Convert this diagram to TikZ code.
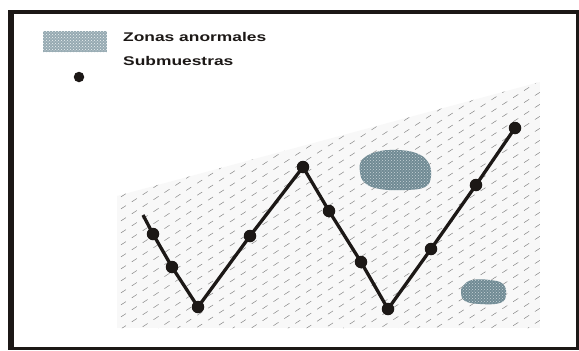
\documentclass[tikz,border=0pt]{standalone}
\usepackage{fontspec}
\setmainfont{Liberation Sans}
\usetikzlibrary{patterns}
\definecolor{ink}{RGB}{28,24,22}
\definecolor{blobcol}{RGB}{112,138,148}
\definecolor{blobdot}{RGB}{200,212,216}
\definecolor{swatch}{RGB}{150,170,178}
\definecolor{hatchbg}{RGB}{248,248,248}
\definecolor{hatchln}{RGB}{135,135,135}
\tikzset{
  sample/.style={circle,fill=ink,inner sep=0pt,minimum size=12.5pt},
  legtext/.style={anchor=west,inner sep=0pt,font=\fontsize{12.6}{14}\selectfont\bfseries,text=ink},
  route/.style={draw=ink,line width=3.3pt,line join=round},
  blob/.style={fill=blobcol,draw=none},
  blobtex/.style={pattern=crosshatch dots,pattern color=blobdot}
}
\begin{document}
\begin{tikzpicture}[x=1pt,y=-1pt]
\useasboundingbox (0,0) rectangle (579,351);
% frame
\fill[ink] (8,10) rectangle (578.8,350);
\fill[white] (14,14) rectangle (576.3,347);
% hatched ground
\begin{scope}
\clip (117,196) -- (540,82) -- (540,328) -- (117,328) -- cycle;
\fill[hatchbg] (117,82) rectangle (540,328);
\foreach \c in {180,192,...,620}{
  \draw[hatchln,line width=0.5pt,dash pattern=on 6pt off 7pt] (110,\c) -- (545,\c-283);
}
\end{scope}
% anomalous zones
\path[blob] plot[smooth cycle,tension=0.7] coordinates{(362,160) (376,152) (396,150) (416,153) (428,162) (431,176) (425,187) (405,190) (380,189) (365,183) (360,172)};
\path[blobtex] plot[smooth cycle,tension=0.7] coordinates{(362,160) (376,152) (396,150) (416,153) (428,162) (431,176) (425,187) (405,190) (380,189) (365,183) (360,172)};
\path[blob] plot[smooth cycle,tension=0.7] coordinates{(463,286) (472,280) (490,280) (503,284) (506,295) (500,303) (480,304) (465,301) (461,293)};
\path[blobtex] plot[smooth cycle,tension=0.7] coordinates{(463,286) (472,280) (490,280) (503,284) (506,295) (500,303) (480,304) (465,301) (461,293)};
% sampling route
\coordinate (s0) at (143,215);
\node[sample] (p1) at (153,234) {};
\node[sample] (p2) at (172,267) {};
\node[sample] (p3) at (198,307) {};
\node[sample] (p4) at (250,236) {};
\node[sample] (p5) at (303,167) {};
\node[sample] (p6) at (329,211) {};
\node[sample] (p7) at (361,262) {};
\node[sample] (p8) at (388,309) {};
\node[sample] (p9) at (431,249) {};
\node[sample] (p10) at (476,185) {};
\node[sample] (p11) at (515,128) {};
\draw[route] (s0) -- (p1.center) -- (p2.center) -- (p3.center) -- (p4.center) -- (p5.center) -- (p6.center) -- (p7.center) -- (p8.center) -- (p9.center) -- (p10.center) -- (p11.center);
% legend
\fill[swatch] (43,31) rectangle (107,52);
\path[pattern=crosshatch dots,pattern color=white!85!swatch] (43,31) rectangle (107,52);
\node[legtext] (lz) at (123,37) {\scalebox{1.38}[1]{Zonas anormales}};
\node[sample,minimum size=10.5pt] (ld) at (79,77) {};
\node[legtext] (ls) at (123,61) {\scalebox{1.38}[1]{Submuestras}};
\end{tikzpicture}
\end{document}
